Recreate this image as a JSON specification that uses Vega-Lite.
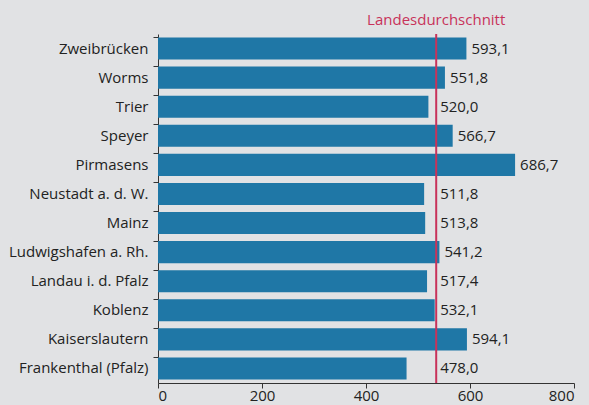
{
  "$schema": "https://vega.github.io/schema/vega-lite/v6.json",
  "width": 416,
  "height": 349,
  "autosize": {"type": "none"},
  "padding": {"left": 158, "top": 34, "right": 15, "bottom": 22},
  "background": "#e1e2e4",
  "config": {
    "view": {"stroke": null},
    "font": "Open Sans",
    "locale": {"number": {"decimal": ",", "thousands": ".", "grouping": [3], "currency": ["", " €"]}},
    "axis": {"domainColor": "#333333", "tickColor": "#333333", "labelColor": "#222222", "labelFont": "Open Sans", "labelFontSize": 15, "grid": false, "title": null}
  },
  "datasets": {
    "cities": [
      {"stadt": "Zweibrücken", "wert": 593.1},
      {"stadt": "Worms", "wert": 551.8},
      {"stadt": "Trier", "wert": 520.0},
      {"stadt": "Speyer", "wert": 566.7},
      {"stadt": "Pirmasens", "wert": 686.7},
      {"stadt": "Neustadt a. d. W.", "wert": 511.8},
      {"stadt": "Mainz", "wert": 513.8},
      {"stadt": "Ludwigshafen a. Rh.", "wert": 541.2},
      {"stadt": "Landau i. d. Pfalz", "wert": 517.4},
      {"stadt": "Koblenz", "wert": 532.1},
      {"stadt": "Kaiserslautern", "wert": 594.1},
      {"stadt": "Frankenthal (Pfalz)", "wert": 478.0}
    ],
    "avg": [{"label": "Landesdurchschnitt", "wert": 535}]
  },
  "layer": [
    {
      "data": {"name": "cities"},
      "mark": {"type": "bar", "color": "#1f77a6"},
      "encoding": {
        "y": {"field": "stadt", "type": "nominal", "sort": null,
              "scale": {"paddingInner": 0.24, "paddingOuter": 0.12},
              "axis": {"bandPosition": 0, "tickSize": 5, "labelPadding": 5, "domainWidth": 1}},
        "x": {"field": "wert", "type": "quantitative", "scale": {"domain": [0, 800]},
              "axis": {"values": [0, 200, 400, 600, 800], "tickSize": 5, "labelPadding": 0}}
      }
    },
    {
      "data": {"name": "avg"},
      "mark": {"type": "rule", "color": "#c8325a", "strokeWidth": 2},
      "encoding": {"x": {"field": "wert", "type": "quantitative"}}
    },
    {
      "data": {"name": "cities"},
      "transform": [{"calculate": "max(datum.wert, 533)", "as": "lx"}],
      "mark": {"type": "text", "align": "left", "dx": 5, "baseline": "middle", "fontSize": 15, "color": "#222222"},
      "encoding": {
        "y": {"field": "stadt", "type": "nominal", "sort": null},
        "x": {"field": "lx", "type": "quantitative"},
        "text": {"field": "wert", "type": "quantitative", "format": ".1f"}
      }
    },
    {
      "data": {"name": "avg"},
      "mark": {"type": "text", "color": "#c8325a", "fontSize": 15, "align": "center", "baseline": "bottom", "dy": -6},
      "encoding": {
        "x": {"field": "wert", "type": "quantitative"},
        "y": {"value": 0},
        "text": {"field": "label"}
      }
    }
  ]
}
